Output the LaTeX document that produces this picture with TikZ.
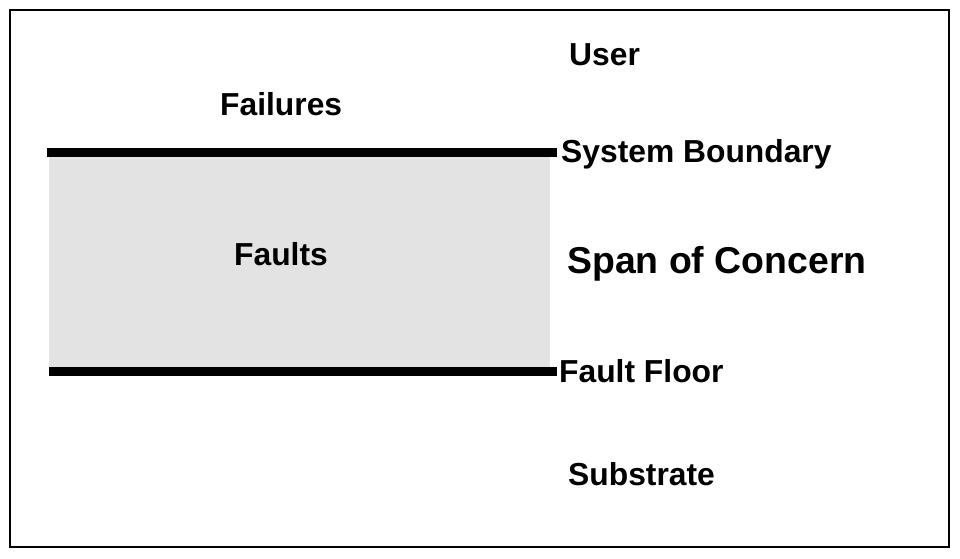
\documentclass[tikz,border=0pt]{standalone}
\usepackage{fontspec}
\setmainfont{Liberation Sans}
\definecolor{faultgray}{HTML}{E3E3E3}
\begin{document}
\begin{tikzpicture}[x=1pt,y=-1pt,
  lbl/.style={anchor=base west,inner sep=0pt,font=\fontsize{31.8}{36}\selectfont\bfseries},
  biglbl/.style={anchor=base west,inner sep=0pt,font=\fontsize{37.4}{40}\selectfont\bfseries},
  boundary/.style={line width=9pt}]
\useasboundingbox (0,0) rectangle (960,558);
\draw[line width=1.3pt] (10,10) rectangle (949,547);
\fill[faultgray] (49,152) rectangle (550,371);
\coordinate (sbL) at (47,152);
\coordinate (sbR) at (557,152);
\coordinate (ffL) at (49,371.5);
\coordinate (ffR) at (557,371.5);
\draw[boundary] (sbL) -- (sbR);
\draw[boundary] (ffL) -- (ffR);
\node[lbl] (user) at (569,65) {User};
\node[lbl] (failures) at (220,115) {Failures};
\node[lbl] (sysb) at (561,162) {System Boundary};
\node[lbl] (faults) at (234,265) {Faults};
\node[biglbl] (span) at (567,273) {Span of Concern};
\node[lbl] (ffloor) at (559,382) {Fault Floor};
\node[lbl] (substrate) at (568,485) {Substrate};
\end{tikzpicture}
\end{document}
